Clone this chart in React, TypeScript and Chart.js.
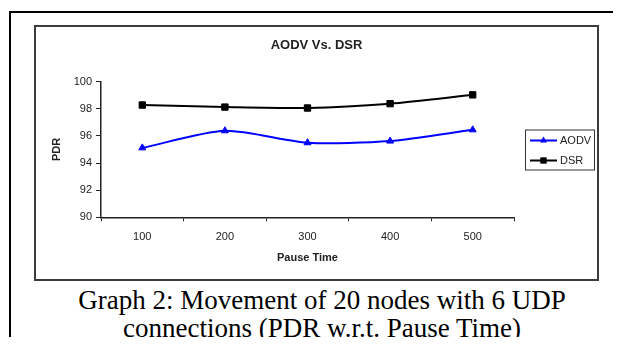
import React, { useEffect, useRef } from 'react';
import { Chart, registerables } from 'chart.js';

Chart.register(...registerables);

const pauseTimes = ['100', '200', '300', '400', '500'];
const aodvPdr = [95.12, 96.38, 95.5, 95.62, 96.45];
const dsrPdr = [98.28, 98.13, 98.06, 98.38, 99.03];
const yMin = 90;
const yMax = 100;
const yStep = 2;
const seriesNames = ['AODV', 'DSR'];
const chartTitle = 'AODV Vs. DSR';
const xTitle = 'Pause Time';
const yTitle = 'PDR';
const captionLines = [
  'Graph 2: Movement of 20 nodes with 6 UDP',
  'connections (PDR w.r.t. Pause Time)',
];

const SANS = '"Liberation Sans", Arial, sans-serif';

function drawMarker(ctx: CanvasRenderingContext2D, style: string, x: number, y: number, r: number, color: string) {
  ctx.save();
  ctx.fillStyle = color;
  ctx.beginPath();
  if (style === 'triangle') {
    ctx.moveTo(x, y - r);
    ctx.lineTo(x + r * 0.866, y + r * 0.5);
    ctx.lineTo(x - r * 0.866, y + r * 0.5);
    ctx.closePath();
  } else {
    const s = Math.SQRT1_2 * r;
    ctx.rect(x - s, y - s, 2 * s, 2 * s);
  }
  ctx.fill();
  ctx.restore();
}

const boxTitle = {
  id: 'boxTitle',
  afterDraw(chart: any) {
    const ctx: CanvasRenderingContext2D = chart.ctx;
    ctx.save();
    ctx.font = 'bold 13px ' + SANS;
    ctx.fillStyle = '#222';
    ctx.textAlign = 'center';
    ctx.textBaseline = 'middle';
    ctx.fillText(chartTitle, chart.width / 2, 18);
    ctx.restore();
  },
};

const boxLegend = {
  id: 'boxLegend',
  afterDraw(chart: any) {
    const ctx: CanvasRenderingContext2D = chart.ctx;
    const area = chart.chartArea;
    const w = 69;
    const h = 40;
    const x = area.right + 11;
    const y = (area.top + area.bottom) / 2 - h / 2;
    ctx.save();
    ctx.strokeStyle = '#333';
    ctx.lineWidth = 1;
    ctx.strokeRect(x + 0.5, y + 0.5, w, h);
    ctx.font = '11px ' + SANS;
    ctx.textBaseline = 'middle';
    ctx.textAlign = 'left';
    chart.data.datasets.forEach((ds: any, i: number) => {
      const ly = y + 11 + i * 20;
      ctx.strokeStyle = ds.borderColor;
      ctx.lineWidth = 2;
      ctx.beginPath();
      ctx.moveTo(x + 5, ly);
      ctx.lineTo(x + 32, ly);
      ctx.stroke();
      drawMarker(ctx, ds.pointStyle, x + 18.5, ly, ds.pointRadius, ds.borderColor);
      ctx.fillStyle = '#222';
      ctx.fillText(ds.label, x + 35, ly + 0.5);
    });
    ctx.restore();
  },
};

export default function App() {
  const canvasRef = useRef<HTMLCanvasElement | null>(null);

  useEffect(() => {
    document.documentElement.style.overflow = 'hidden';
    const canvas = canvasRef.current;
    if (!canvas) return;
    const chart = new Chart(canvas, {
      type: 'line',
      data: {
        labels: pauseTimes,
        datasets: [
          {
            label: seriesNames[0],
            data: aodvPdr,
            borderColor: '#0000FF',
            backgroundColor: '#0000FF',
            borderWidth: 2,
            pointStyle: 'triangle',
            pointRadius: 4,
            pointBackgroundColor: '#0000FF',
            pointBorderColor: '#0000FF',
            pointBorderWidth: 1,
            tension: 0.25,
            fill: false,
          },
          {
            label: seriesNames[1],
            data: dsrPdr,
            borderColor: '#000000',
            backgroundColor: '#000000',
            borderWidth: 2,
            pointStyle: 'rect',
            pointRadius: 4.5,
            pointBackgroundColor: '#000000',
            pointBorderColor: '#000000',
            pointBorderWidth: 1,
            tension: 0.25,
            fill: false,
          },
        ],
      },
      options: {
        responsive: false,
        animation: false,
        devicePixelRatio: 1,
        layout: { padding: { left: 0, right: 83, top: 54.7, bottom: 0 } },
        plugins: {
          legend: { display: false },
          tooltip: { enabled: false },
          title: { display: false },
        },
        scales: {
          x: {
            type: 'category',
            offset: true,
            afterFit: (scale: any) => {
              scale.height = 61.7;
            },
            grid: {
              display: true,
              offset: true,
              drawOnChartArea: false,
              drawTicks: true,
              tickLength: 4,
              color: '#222',
              lineWidth: 1,
            },
            border: { display: true, color: '#222', width: 1.5 },
            ticks: {
              color: '#222',
              padding: 9,
              font: { family: SANS, size: 11, lineHeight: 1.2 },
              maxRotation: 0,
            },
            title: {
              display: true,
              text: xTitle,
              color: '#222',
              font: { family: SANS, size: 11, weight: 'bold', lineHeight: 1.2 },
              padding: { top: 0, bottom: 14.4 },
            },
          },
          y: {
            type: 'linear',
            min: yMin,
            max: yMax,
            afterFit: (scale: any) => {
              scale.width = 65;
            },
            grid: {
              display: true,
              drawOnChartArea: false,
              drawTicks: true,
              tickLength: 5,
              color: '#222',
              lineWidth: 1,
            },
            border: { display: true, color: '#222', width: 1.5 },
            ticks: {
              stepSize: yStep,
              color: '#222',
              padding: 4,
              font: { family: SANS, size: 11, lineHeight: 1.2 },
            },
            title: {
              display: true,
              text: yTitle,
              color: '#222',
              font: { family: SANS, size: 11, weight: 'bold', lineHeight: 1.2 },
              padding: { top: 14.4, bottom: 0 },
            },
          },
        },
      },
      plugins: [boxTitle, boxLegend],
    });
    return () => {
      chart.destroy();
    };
  }, []);

  return (
    <div style={{ position: 'relative', width: 613, height: 329 }}>
      <div
        style={{
          position: 'absolute',
          left: 1,
          top: 3,
          width: 612,
          height: 334,
          boxSizing: 'border-box',
          borderLeft: '2px solid #000',
          borderTop: '2px solid #000',
        }}
      />
      <div
        style={{
          position: 'absolute',
          left: 26,
          top: 17,
          width: 565,
          height: 256,
          boxSizing: 'border-box',
          border: '2px solid #3c3c3c',
          background: '#fff',
        }}
      >
        <canvas ref={canvasRef} width={561} height={252} style={{ display: 'block', width: 561, height: 252 }} />
      </div>
      <div
        style={{
          position: 'absolute',
          left: 14,
          top: 278,
          width: 600,
          textAlign: 'center',
          fontFamily: '"Liberation Serif", "Times New Roman", serif',
          fontSize: 27,
          lineHeight: '28px',
          color: '#000',
          whiteSpace: 'nowrap',
        }}
      >
        {captionLines.map((t) => (
          <div key={t}>{t}</div>
        ))}
      </div>
    </div>
  );
}
